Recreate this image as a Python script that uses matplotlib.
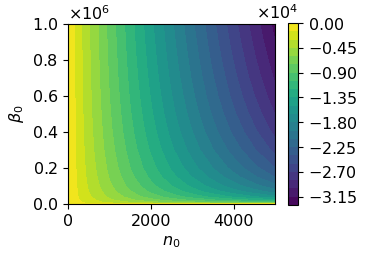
import numpy as np
import matplotlib
matplotlib.use("Agg")
import matplotlib.pyplot as plt
from matplotlib.ticker import ScalarFormatter

# grid: columns are n_0, rows are beta_0 (x1e6),
# cell values are the plotted quantity in units of -1e4
n0_cols = [0, 250, 500, 1000, 1500, 2000, 2500, 3000, 3500, 4000, 4500, 5000]
beta0_rows = [0.0, 0.002, 0.005, 0.01, 0.02, 0.04, 0.07, 0.1, 0.15, 0.2,
              0.3, 0.4, 0.5, 0.6, 0.7, 0.8, 0.9, 1.0]
vals = [
    [0, 0.000, 0.000, 0.000, 0.000, 0.000, 0.000, 0.000, 0.000, 0.000, 0.000, 0.000],
    [0, 0.080, 0.128, 0.195, 0.241, 0.277, 0.306, 0.330, 0.350, 0.367, 0.381, 0.394],
    [0, 0.103, 0.172, 0.277, 0.360, 0.428, 0.487, 0.538, 0.583, 0.623, 0.660, 0.693],
    [0, 0.120, 0.206, 0.343, 0.457, 0.555, 0.641, 0.719, 0.791, 0.856, 0.917, 0.973],
    [0, 0.137, 0.240, 0.411, 0.557, 0.687, 0.805, 0.913, 1.014, 1.109, 1.198, 1.283],
    [0, 0.154, 0.274, 0.480, 0.659, 0.822, 0.973, 1.114, 1.247, 1.374, 1.494, 1.609],
    [0, 0.168, 0.302, 0.535, 0.742, 0.933, 1.111, 1.279, 1.439, 1.592, 1.739, 1.881],
    [0, 0.177, 0.320, 0.571, 0.795, 1.003, 1.199, 1.385, 1.562, 1.732, 1.897, 2.055],
    [0, 0.187, 0.340, 0.611, 0.856, 1.084, 1.300, 1.505, 1.702, 1.893, 2.077, 2.256],
    [0, 0.195, 0.355, 0.640, 0.899, 1.141, 1.371, 1.591, 1.802, 2.007, 2.205, 2.398],
    [0, 0.205, 0.375, 0.680, 0.960, 1.222, 1.472, 1.712, 1.944, 2.168, 2.386, 2.599],
    [0, 0.212, 0.389, 0.709, 1.003, 1.280, 1.544, 1.798, 2.044, 2.283, 2.515, 2.743],
    [0, 0.218, 0.400, 0.731, 1.036, 1.324, 1.600, 1.865, 2.122, 2.372, 2.615, 2.854],
    [0, 0.222, 0.409, 0.750, 1.064, 1.361, 1.645, 1.920, 2.186, 2.445, 2.697, 2.944],
    [0, 0.226, 0.417, 0.765, 1.087, 1.392, 1.684, 1.966, 2.240, 2.506, 2.767, 3.021],
    [0, 0.229, 0.424, 0.778, 1.107, 1.418, 1.717, 2.006, 2.286, 2.559, 2.826, 3.088],
    [0, 0.232, 0.430, 0.790, 1.124, 1.442, 1.746, 2.041, 2.327, 2.606, 2.879, 3.147],
    [0, 0.235, 0.435, 0.801, 1.140, 1.463, 1.773, 2.073, 2.364, 2.649, 2.927, 3.199],
]


def main():
    plt.rcParams['font.size'] = 11.5
    fig = plt.figure(figsize=(3.66, 2.61), dpi=100)
    ax = fig.add_axes([68 / 366, 57 / 261, 207 / 366, 180 / 261])
    cax = fig.add_axes([288 / 366, 56 / 261, 10 / 366, 182 / 261])

    N, B = np.meshgrid(n0_cols, np.array(beta0_rows) * 1e6)
    Z = -np.array(vals) * 1e4

    cs = ax.contourf(N, B, Z, levels=np.arange(-3.30e4, 0.01e4, 0.15e4),
                     cmap='viridis')
    ax.set_xlabel(r'$n_0$')
    ax.set_ylabel(r'$\beta_0$')
    ax.set_xticks([0, 2000, 4000])

    fmt = ScalarFormatter(useMathText=True)
    fmt.set_powerlimits((0, 0))
    ax.yaxis.set_major_formatter(fmt)

    cb = fig.colorbar(cs, cax=cax)
    cfmt = ScalarFormatter(useMathText=True)
    cfmt.set_powerlimits((0, 0))
    cb.formatter = cfmt
    cb.set_ticks(np.arange(0, -3.2e4, -0.45e4))
    cb.update_ticks()

    fig.savefig('out.png', dpi=100)


main()
